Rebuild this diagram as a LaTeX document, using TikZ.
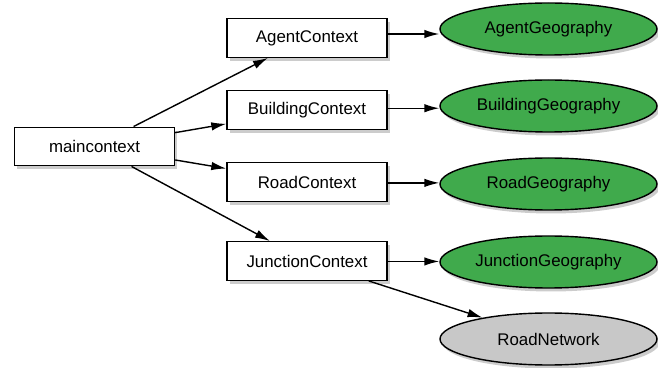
\documentclass[tikz,border=0pt]{standalone}
\usepackage{fontspec}
\setmainfont{Liberation Sans}
\usetikzlibrary{shapes.geometric,shadows,arrows.meta}
\definecolor{geogreen}{RGB}{64,170,76}
\definecolor{netgray}{RGB}{200,200,200}
\begin{document}
\begin{tikzpicture}[
    ctxbox/.style={draw, fill=white, thick, minimum width=3.2cm, minimum height=0.77cm,
      drop shadow={opacity=0.4, shadow xshift=0.05cm, shadow yshift=-0.07cm}},
    geoell/.style={draw, ellipse, thick, fill=geogreen, minimum width=4.34cm, minimum height=1.04cm,
      inner sep=0pt, drop shadow={opacity=0.4, shadow xshift=0.05cm, shadow yshift=-0.07cm}},
    link/.style={-{Latex[length=3mm,width=1.7mm]}, thick},
    font=\fontsize{9.6}{11}\selectfont]
    \useasboundingbox (0,0) rectangle (13.16,7.36);

    % Main context
    \node[ctxbox] (main) at (1.89,4.43) {maincontext};

    % Contexts
    \node[ctxbox] (agent) at (6.14,6.6) {AgentContext};
    \node[ctxbox] (building) at (6.14,5.16) {BuildingContext};
    \node[ctxbox] (road) at (6.14,3.72) {RoadContext};
    \node[ctxbox] (junction) at (6.14,2.14) {JunctionContext};

    % Geographies
    \node[geoell] (agentgeo) at (10.97,6.78) {AgentGeography};
    \node[geoell] (buildinggeo) at (10.97,5.24) {BuildingGeography};
    \node[geoell] (roadgeo) at (10.97,3.68) {RoadGeography};
    \node[geoell] (junctiongeo) at (10.97,2.12) {JunctionGeography};
    \node[geoell, fill=netgray] (network) at (10.97,0.58) {RoadNetwork};

    % Links from main
    \draw[link] (main) -- (agent);
    \draw[link] (main) -- (building);
    \draw[link] (main) -- (road);
    \draw[link] (main) -- (junction);

    % Context to geography, kept level
    \path (agent) -- (agentgeo) coordinate[midway] (agentmid);
    \path (building) -- (buildinggeo) coordinate[midway] (buildingmid);
    \path (road) -- (roadgeo) coordinate[midway] (roadmid);
    \path (junction) -- (junctiongeo) coordinate[midway] (junctionmid);
    \draw[link] (agent.east |- agentmid) -- (agentgeo.west |- agentmid);
    \draw[link] (building.east |- buildingmid) -- (buildinggeo.west |- buildingmid);
    \draw[link] (road.east |- roadmid) -- (roadgeo.west |- roadmid);
    \draw[link] (junction.east |- junctionmid) -- (junctiongeo.west |- junctionmid);
    \draw[link] (junction) -- (network);
\end{tikzpicture}
\end{document}
